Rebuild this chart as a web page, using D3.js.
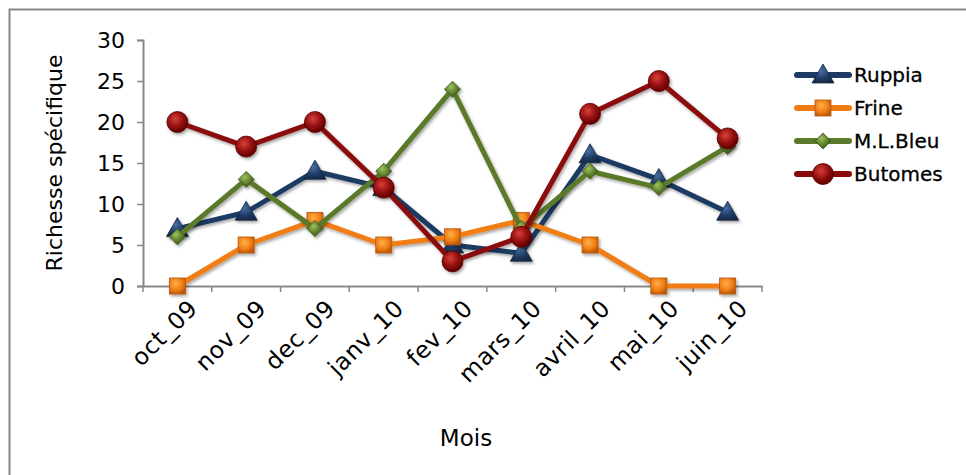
<!DOCTYPE html>
<html><head><meta charset="utf-8">
<script src="https://cdn.jsdelivr.net/npm/d3@7"></script>
<style>body{margin:0;background:#fff}svg{display:block}text{font-family:"DejaVu Sans",sans-serif}</style>
</head><body><svg id="c" width="966" height="475"></svg>
<script>
const categories = ["oct_09","nov_09","dec_09","janv_10","fev_10","mars_10","avril_10","mai_10","juin_10"];
const ruppia = [7,9,14,12,5,4,16,13,9];
const frine = [0,5,8,5,6,8,5,0,0];
const mlBleu = [6,13,7,14,24,7,14,12,17];
const butomes = [20,17,20,12,3,6,21,25,18];
const yTicks = [0,5,10,15,20,25,30];
const seriesNames = ["Ruppia","Frine","M.L.Bleu","Butomes"];

const series = [
  {name:seriesNames[0], values:ruppia, color:"#1f3b63", light:"#4a6fa5", dark:"#142844", shape:"triangle"},
  {name:seriesNames[1], values:frine, color:"#f07d14", light:"#ffb04a", dark:"#b8560a", shape:"square"},
  {name:seriesNames[2], values:mlBleu, color:"#5a7a2c", light:"#9cc25a", dark:"#3d5418", shape:"diamond"},
  {name:seriesNames[3], values:butomes, color:"#8a0a0a", light:"#d8403a", dark:"#5a0000", shape:"circle"}
];

const svg = d3.select("#c");
const defs = svg.append("defs");
const f = defs.append("filter").attr("id","sh").attr("x","-20%").attr("y","-20%").attr("width","150%").attr("height","150%");
f.append("feDropShadow").attr("dx",1.5).attr("dy",2).attr("stdDeviation",1.5).attr("flood-color","#000").attr("flood-opacity",0.35);
series.forEach((s,i)=>{
  const g = defs.append("radialGradient").attr("id","g"+i).attr("cx","40%").attr("cy","35%").attr("r","70%");
  g.append("stop").attr("offset","0%").attr("stop-color",s.light);
  g.append("stop").attr("offset","60%").attr("stop-color",s.color);
  g.append("stop").attr("offset","100%").attr("stop-color",s.dark);
});

// frame
svg.append("rect").attr("x",9.5).attr("y",9.5).attr("width",1000).attr("height",1000)
  .attr("fill","none").attr("stroke","#888").attr("stroke-width",2);

const pL=143, pR=762, pT=40, pB=286;
const x = d3.scaleBand().domain(categories).range([pL,pR]);
const y = d3.scaleLinear().domain([0,30]).range([pB,pT]);

// y axis
const ya = svg.append("g").attr("transform",`translate(${pL},0)`)
  .call(d3.axisLeft(y).tickValues(yTicks).tickSize(6).tickPadding(12));
ya.select(".domain").attr("stroke","#888").attr("stroke-width",2);
ya.selectAll(".tick line").attr("stroke","#888").attr("stroke-width",1.5);
ya.selectAll("text").attr("font-size",22).attr("fill","#000");

// x axis
const xa = svg.append("g").attr("transform",`translate(0,${pB})`)
  .call(d3.axisBottom(x).tickSize(0).tickFormat(""));
xa.select(".domain").attr("stroke","#888").attr("stroke-width",2);
const bounds = [...categories.map(c=>x(c)), pR];
xa.selectAll(".bt").data(bounds).enter().append("line").attr("class","bt")
  .attr("x1",d=>d).attr("x2",d=>d).attr("y1",0).attr("y2",6).attr("stroke","#888").attr("stroke-width",1.5);
svg.append("g").selectAll("text").data(categories).enter().append("text")
  .attr("transform",d=>`translate(${x(d)+x.bandwidth()/2+10},${pB+12}) rotate(-45)`)
  .attr("text-anchor","end").attr("font-size",23.5).attr("letter-spacing",0.6).attr("dy","0.7em").text(d=>d);

// titles
svg.append("text").attr("transform",`translate(62,${(pT+pB)/2}) rotate(-90)`)
  .attr("text-anchor","middle").attr("font-size",22).text("Richesse spécifique");
svg.append("text").attr("x",466).attr("y",446).attr("text-anchor","middle").attr("font-size",23).text("Mois");

function marker(g, shape, i){
  let el;
  if(shape==="triangle") el = g.append("path").attr("d","M0,-11L11,8L-11,8Z");
  else if(shape==="square") el = g.append("rect").attr("x",-8).attr("y",-8).attr("width",16).attr("height",16);
  else if(shape==="diamond") el = g.append("path").attr("d","M0,-8L8,0L0,8L-8,0Z");
  else el = g.append("circle").attr("r",10.5);
  el.attr("fill",`url(#g${i})`).attr("stroke",series[i].dark).attr("stroke-width",0.8);
}

const line = d3.line().x((d,j)=>x(categories[j])+x.bandwidth()/2).y(d=>y(d));
series.forEach((s,i)=>{
  const g = svg.append("g").attr("filter","url(#sh)");
  g.append("path").attr("d",line(s.values)).attr("fill","none").attr("stroke",s.color)
    .attr("stroke-width",5).attr("stroke-linejoin","round");
  s.values.forEach((v,j)=>{
    const m = g.append("g").attr("transform",`translate(${x(categories[j])+x.bandwidth()/2},${y(v)})`);
    marker(m,s.shape,i);
  });
});

// legend
const ly = [75,108,141,174];
series.forEach((s,i)=>{
  const g = svg.append("g").attr("transform",`translate(0,${ly[i]})`);
  g.append("line").attr("x1",797).attr("x2",849).attr("y1",0).attr("y2",0)
    .attr("stroke",s.color).attr("stroke-width",6).attr("stroke-linecap","round");
  const m = g.append("g").attr("transform","translate(823,0)");
  marker(m,s.shape,i);
  g.append("text").attr("x",854).attr("y",0).attr("dy","0.36em").attr("font-size",20)
    .attr("stroke","#000").attr("stroke-width",0.3).text(s.name);
});
</script></body></html>
